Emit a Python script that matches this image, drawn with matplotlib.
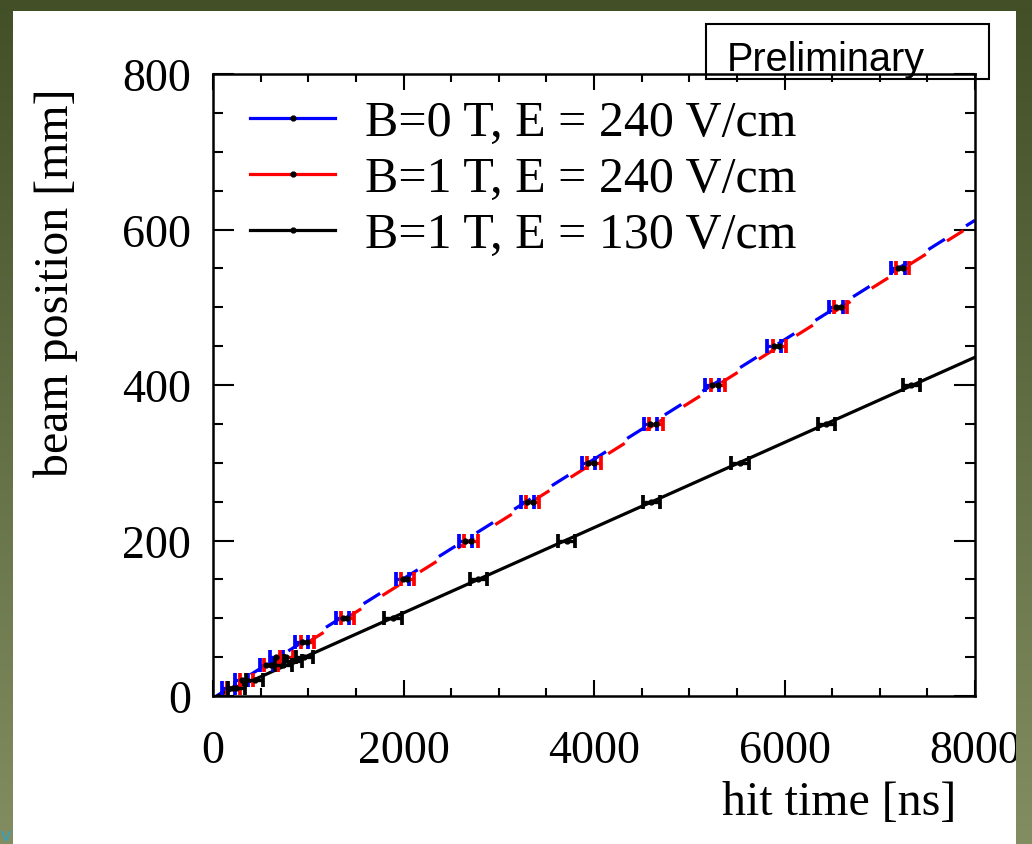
import numpy as np
import matplotlib
matplotlib.use('Agg')
import matplotlib.pyplot as plt
from matplotlib.lines import Line2D
from matplotlib.patches import Rectangle
from matplotlib.ticker import MultipleLocator

# beam position [mm] and measured hit time [ns]
pos_240 = [10, 20, 40, 50, 70, 100, 150, 200, 250, 300, 350, 400, 450, 500, 550]
t_b0_240 = [160, 300, 560, 665, 930, 1360, 1990, 2650, 3300, 3940, 4590, 5240, 5890, 6540, 7190]
t_b1_240 = [215, 350, 610, 770, 990, 1410, 2040, 2710, 3355, 4000, 4650, 5300, 5945, 6590, 7240]
err_b0_240 = [70, 70, 70, 70, 70, 70, 70, 70, 70, 70, 70, 70, 70, 70, 70]
err_b1_240 = [70, 70, 70, 70, 70, 70, 70, 70, 70, 70, 70, 70, 70, 70, 70]

pos_130 = [10, 20, 40, 45, 50, 100, 150, 200, 250, 300, 350, 400]
t_b1_130 = [245, 440, 740, 840, 960, 1890, 2785, 3712, 4602, 5533, 6440, 7333]
err_b1_130 = [90, 90, 90, 90, 90, 90, 90, 90, 90, 90, 90, 90]

labels = ['B=0 T, E = 240 V/cm', 'B=1 T, E = 240 V/cm', 'B=1 T, E = 130 V/cm']
colors = ['blue', 'red', 'black']

plt.rcParams['font.family'] = 'Liberation Serif'
plt.rcParams['lines.scale_dashes'] = False

fig = plt.figure(figsize=(10.32, 8.45), dpi=100)
fig.patch.set_facecolor('white')

# green slide frame on top (clips the edge of the plot like the screenshot)
h, w = 845, 1032
top_c = np.array([0x42, 0x4f, 0x27]) / 255
bot_c = np.array([0x82, 0x8d, 0x61]) / 255
f = np.linspace(0, 1, h)[:, None, None]
img = np.ones((h, w, 4))
img[..., :3] = top_c * (1 - f) + bot_c * f
img[12:, 13:1016, 3] = 0
bg = fig.add_axes([0, 0, 1, 1], zorder=5)
bg.imshow(img, aspect='auto', interpolation='nearest', extent=[0, 1, 0, 1])
bg.set_xlim(0, 1)
bg.set_ylim(0, 1)
bg.axis('off')

ax = fig.add_axes([0.2064, 0.1751, 0.7384, 0.7361])

series = [(t_b0_240, pos_240, err_b0_240, (0, (14, 18))),
          (t_b1_240, pos_240, err_b1_240, (16, (14, 18))),
          (t_b1_130, pos_130, err_b1_130, '-')]

xx = np.array([0, 8000])
for (t, p, e, ls), c in zip(series, colors):
    k, b = np.polyfit(t, p, 1)
    ax.plot(xx, k * xx + b, color=c, lw=2.3, ls=ls, zorder=2)
for (t, p, e, ls), c in zip(series, colors):
    ax.errorbar(t, p, xerr=e, fmt='o', ms=3.5, mfc='k', mec='k', ecolor=c,
                elinewidth=2.4, capsize=5, capthick=2.7, zorder=3)

ax.set_xlim(0, 8000)
ax.set_ylim(0, 800)
ax.xaxis.set_major_locator(MultipleLocator(2000))
ax.xaxis.set_minor_locator(MultipleLocator(500))
ax.yaxis.set_major_locator(MultipleLocator(200))
ax.yaxis.set_minor_locator(MultipleLocator(50))
ax.tick_params(which='both', direction='in', top=True, right=True, width=1.5, labelsize=33)
ax.tick_params(axis='x', which='major', length=11.5, pad=24)
ax.tick_params(axis='x', which='minor', length=5.8)
ax.tick_params(axis='y', which='major', length=15, pad=16)
ax.tick_params(axis='y', which='minor', length=7.2)
for s in ax.spines.values():
    s.set_linewidth(1.8)

ax.set_xlabel('hit time [ns]', fontsize=34.5, ha='right', va='center')
ax.xaxis.set_label_coords(0.976, -0.170)
ax.set_ylabel('beam position [mm]', fontsize=34.5, ha='center', va='center')
ax.yaxis.set_label_coords(-0.207, 0.666)

handles = [Line2D([], [], color=c, lw=2.3, marker='o', ms=3.5, mfc='k', mec='k') for c in colors]
ax.legend(handles, labels, loc='upper left', bbox_to_anchor=(0.0486, 0.959),
          borderaxespad=0, borderpad=0, frameon=False, handlelength=1.7,
          handletextpad=0.6, labelspacing=0.19, fontsize=36)

# "Preliminary" stamp
fig.patches.append(Rectangle((0.684, 0.9053), 0.274, 0.0651, transform=fig.transFigure,
                             fill=False, edgecolor='black', lw=1.5, zorder=4))
fig.text(0.7045, 0.9165, 'Preliminary', family='Liberation Sans', fontsize=28.5,
         va='baseline', ha='left', zorder=4)
fig.text(0.001, 0.001, 'V', family='Liberation Sans', fontsize=11, color='#1aa7e0',
         va='bottom', ha='left', zorder=7)

fig.savefig('out.png', dpi=100)
